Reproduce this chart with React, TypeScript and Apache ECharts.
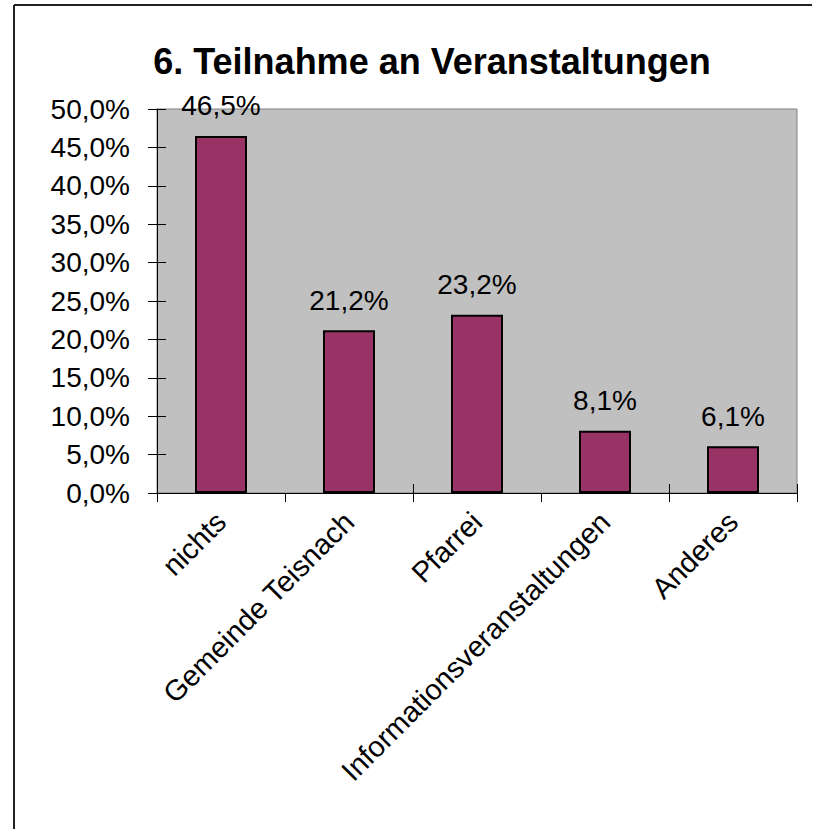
import React, { useEffect, useRef } from "react";
import * as echarts from "echarts";

const titleText = "6. Teilnahme an Veranstaltungen";
const categories = ["nichts", "Gemeinde Teisnach", "Pfarrei", "Informationsveranstaltungen", "Anderes"];
const values = [46.5, 21.2, 23.2, 8.1, 6.1];
const yMin = 0;
const yMax = 50;
const yStep = 5;

const FONT = "'Liberation Sans', Arial, sans-serif";
const fmt = (v: number) => v.toFixed(1).replace(".", ",") + "%";

export default function App() {
  const ref = useRef<HTMLDivElement>(null);
  useEffect(() => {
    if (!ref.current) return;
    const chart = echarts.init(ref.current, null, { renderer: "svg" });
    const grid = { left: 157, right: 24, top: 109, bottom: 336 };
    chart.setOption({
      animation: false,
      backgroundColor: "#ffffff",
      title: {
        text: titleText,
        left: 427,
        top: 38,
        textAlign: "center",
        textStyle: { fontFamily: FONT, fontSize: 36, fontWeight: "bold", color: "#000" },
      },
      graphic: [
        { type: "line", shape: { x1: 14, y1: 5, x2: 812, y2: 5 }, style: { stroke: "#222", lineWidth: 2 } },
        { type: "line", shape: { x1: 14, y1: 5, x2: 14, y2: 829 }, style: { stroke: "#222", lineWidth: 2 } },
      ],
      grid: {
        ...grid,
        show: true,
        backgroundColor: "#C0C0C0",
        borderColor: "#808080",
        borderWidth: 1,
      },
      xAxis: [
        {
          type: "category",
          data: categories,
          position: "bottom",
          axisLine: { show: true, lineStyle: { color: "#000", width: 1 } },
          axisTick: { show: true, length: 9, alignWithLabel: false, lineStyle: { color: "#000" } },
          axisLabel: {
            rotate: 45,
            margin: 24,
            interval: 0,
            fontFamily: FONT,
            fontSize: 29,
            color: "#000",
          },
        },
        {
          type: "category",
          data: categories,
          position: "bottom",
          axisLine: { show: false },
          axisTick: { show: true, inside: true, length: 9, lineStyle: { color: "#000" } },
          axisLabel: { show: false },
        },
      ],
      yAxis: [
        {
          type: "value",
          min: yMin,
          max: yMax,
          interval: yStep,
          position: "left",
          splitLine: { show: false },
          axisLine: { show: true, lineStyle: { color: "#000", width: 1 } },
          axisTick: { show: true, length: 9, lineStyle: { color: "#000" } },
          axisLabel: {
            margin: 27,
            formatter: (v: number) => fmt(v),
            fontFamily: FONT,
            fontSize: 28,
            color: "#000",
          },
        },
        {
          type: "value",
          min: yMin,
          max: yMax,
          interval: yStep,
          position: "left",
          splitLine: { show: false },
          axisLine: { show: false },
          axisTick: { show: true, inside: true, length: 9, lineStyle: { color: "#000" } },
          axisLabel: { show: false },
        },
      ],
      series: [
        {
          type: "bar",
          data: values,
          barWidth: 52,
          itemStyle: { color: "#993366", borderColor: "#000", borderWidth: 2 },
          label: {
            show: true,
            position: "top",
            distance: 16,
            formatter: (p: any) => fmt(p.value),
            fontFamily: FONT,
            fontSize: 28,
            color: "#000",
          },
        },
      ],
    });
    return () => chart.dispose();
  }, []);
  return (
    <div
      ref={ref}
      style={{ position: "absolute", left: 0, top: 0, width: 821, height: 829 }}
    />
  );
}
